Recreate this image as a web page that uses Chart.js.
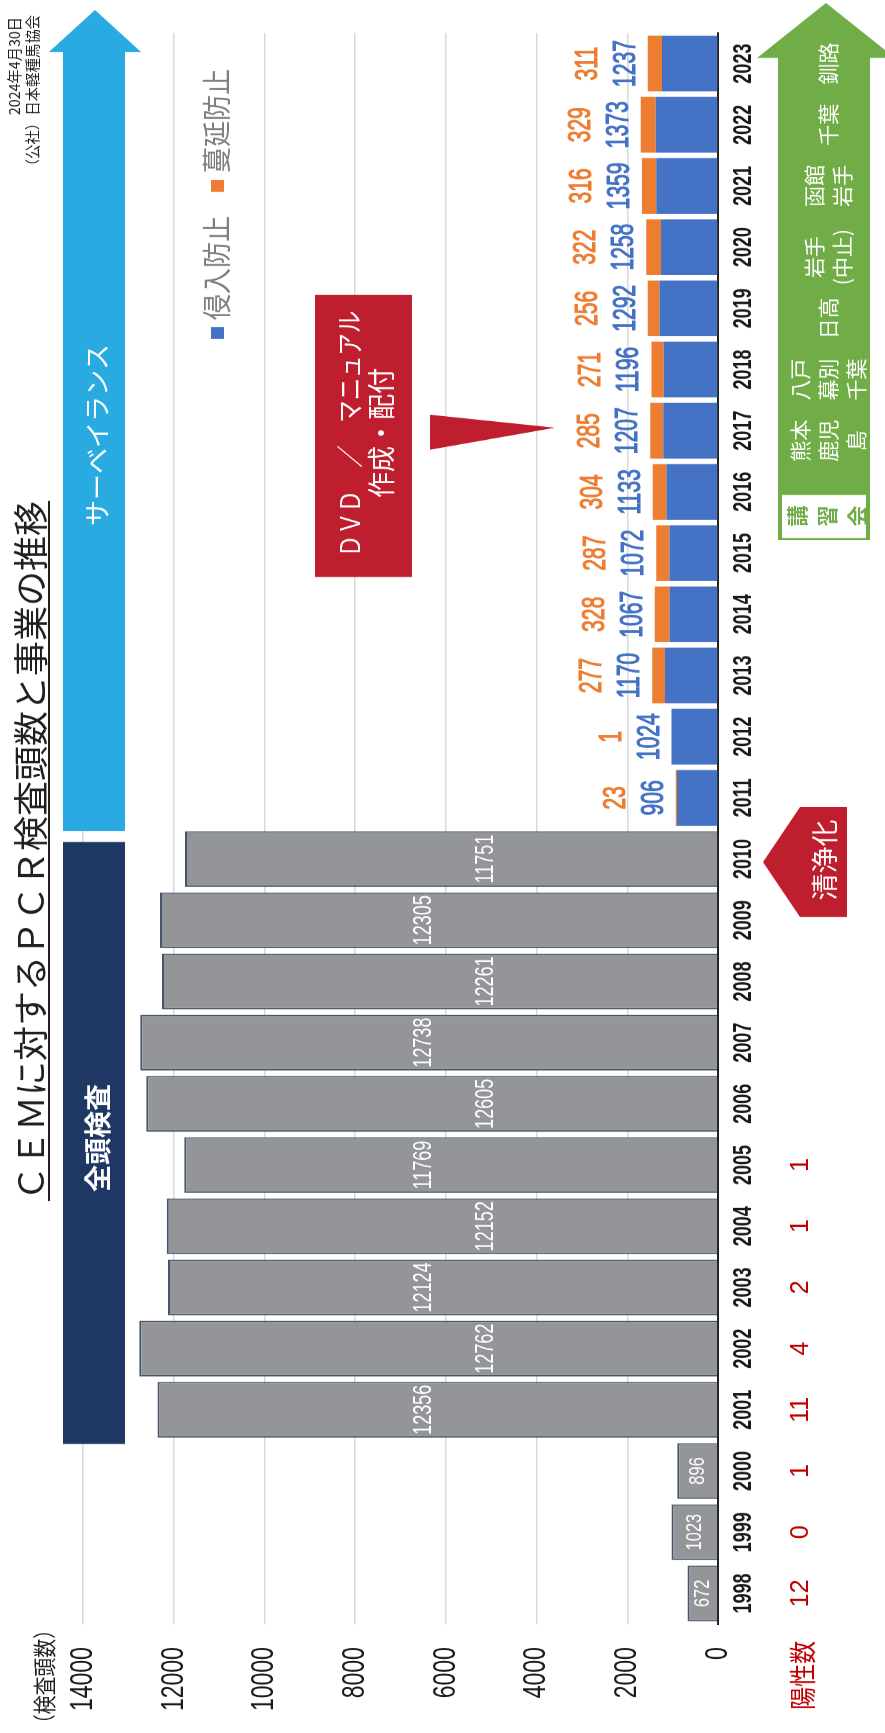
<!DOCTYPE html>
<html lang="ja">
<head>
<meta charset="utf-8">
<script src="https://cdn.jsdelivr.net/npm/chart.js@4.4.1/dist/chart.umd.min.js"></script>
<style>
  html, body { margin: 0; padding: 0; background: #fff; }
  body { width: 885px; height: 1733px; overflow: hidden; position: relative; }
  /* el grafico se dibuja apaisado y se gira */
  #wrap {
    position: absolute; left: 0; top: 0;
    width: 2407px; height: 885px;
    transform-origin: 0 0;
    transform: translate(0, 1733px) rotate(-90deg) scaleX(0.72);
  }
</style>
</head>
<body>
<div id="wrap"><canvas id="myChart" width="2407" height="885"></canvas></div>
<script>
let myChart;

const S = 1733 / 2407;   // compresion horizontal del lienzo apaisado
const ALTO = 1733;       // alto de la pagina = ancho apaisado

const years = ['1998', '1999', '2000', '2001', '2002', '2003', '2004', '2005', '2006',
  '2007', '2008', '2009', '2010', '2011', '2012', '2013', '2014', '2015', '2016',
  '2017', '2018', '2019', '2020', '2021', '2022', '2023'];

// 全頭検査 1998-2010
const zentouKensa = [672, 1023, 896, 12356, 12762, 12124, 12152, 11769, 12605, 12738, 12261, 12305, 11751];
// 侵入防止 / 蔓延防止 2011-2023
const shinnyuBoushi = [906, 1024, 1170, 1067, 1072, 1133, 1207, 1196, 1292, 1258, 1359, 1373, 1237];
const manenBoushi = [23, 1, 277, 328, 287, 304, 285, 271, 256, 322, 316, 329, 311];
// 陽性数 1998-2005
const youseiSuu = [12, 0, 1, 11, 4, 2, 1, 1];

const ejeMax = 14000;
const ejePaso = 2000;

// 講習会
const koushuu = {
  '2017': ['熊本', '鹿児', '島'],
  '2018': ['八戸', '幕別', '千葉'],
  '2019': ['日高'],
  '2020': ['岩手', '(中止)'],
  '2021': ['函館', '岩手'],
  '2022': ['千葉'],
  '2023': ['釧路']
};

const inicio = years.indexOf('2011');
const datosGris = years.map((y, i) => i < zentouKensa.length ? zentouKensa[i] : null);
const datosAzul = years.map((y, i) => i >= inicio ? shinnyuBoushi[i - inicio] : null);
const datosNaranja = years.map((y, i) => i >= inicio ? manenBoushi[i - inicio] : null);

const JP = '"Noto Sans CJK JP", sans-serif';
const NUM = '"Liberation Sans", Arial, sans-serif';

const dibujos = {
  id: 'dibujos',
  afterDraw(chart) {
    const c = chart.ctx;
    const xs = chart.scales.x;
    const ys = chart.scales.y;
    const P = (px, py) => [ALTO - py, px];
    const filaY = i => ALTO - xs.getPixelForValue(i) * S;
    const valX = v => ys.getPixelForValue(v);

    c.save();
    c.scale(1 / S, 1);

    function poly(pts, color) {
      c.beginPath();
      pts.forEach((p, k) => {
        const [a, b] = P(p[0], p[1]);
        if (k) c.lineTo(a, b); else c.moveTo(a, b);
      });
      c.closePath();
      c.fillStyle = color;
      c.fill();
    }
    function rect(x1, y1, x2, y2, color) {
      poly([[x1, y1], [x2, y1], [x2, y2], [x1, y2]], color);
    }
    function texto(str, px, py, font, color, r, align, base, grosor) {
      const [lx, ly] = P(px, py);
      c.save();
      c.translate(lx, ly);
      c.scale(r, 1);
      c.font = font;
      c.fillStyle = color;
      c.textAlign = align || 'center';
      c.textBaseline = base || 'middle';
      c.fillText(str, 0, 0);
      if (grosor) {
        c.strokeStyle = color;
        c.lineWidth = grosor;
        c.strokeText(str, 0, 0);
      }
      c.restore();
    }

    // titulo
    const titulo = 'ＣＥＭに対するＰＣＲ検査頭数と事業の推移';
    c.font = '35px ' + JP;
    const wt = c.measureText(titulo).width;
    texto(titulo, 31, 851, '35px ' + JP, '#231f20', 1, 'center');
    c.fillStyle = '#231f20';
    c.fillRect(ALTO - (851 + wt / 2), 48, wt, 2);

    // fecha
    texto('2024年4月30日', 14, 17, '15px ' + JP, '#231f20', 0.95, 'right');
    texto('（公社）日本軽種馬協会', 32, 15, '15px ' + JP, '#231f20', 0.96, 'right');

    // flecha サーベイランス
    poly([[95, 10], [141, 52], [125, 52], [125, 831], [63, 831], [63, 52], [49, 52]], '#29abe2');
    texto('サーベイランス', 97, 435, '26px ' + JP, '#ffffff', 1, 'center');

    // 全頭検査
    rect(63, 842, 125, 1444, '#1f3763');
    texto('全頭検査', 98, 1138, 'bold 27px ' + JP, '#ffffff', 1, 'center');

    // leyenda
    rect(211, 180, 224, 192, '#ed7d31');
    texto('蔓延防止', 217, 121, '29px ' + JP, '#7f7f7f', 0.9, 'center');
    rect(211, 327, 224, 339, '#4472c4');
    texto('侵入防止', 217, 268, '29px ' + JP, '#7f7f7f', 0.9, 'center');

    // etiquetas de las barras grises
    zentouKensa.forEach((v, i) => {
      if (v < 2000) {
        texto(String(v), valX(v / 2), filaY(i), '22px ' + NUM, '#ffffff', 0.75, 'center');
      } else {
        const pos = i % 2 ? 6480 : 5110;
        texto(String(v), valX(pos), filaY(i), '25px ' + NUM, '#ffffff', 0.72, 'center');
      }
    });

    // etiquetas azul / naranja
    shinnyuBoushi.forEach((v, k) => {
      const i = inicio + k;
      const fin = valX(v + manenBoushi[k]);
      texto(String(v), fin - 13, filaY(i), '31px ' + NUM, '#4472c4', 0.68, 'center', 'alphabetic', 1.1);
      texto(String(manenBoushi[k]), fin - 51, filaY(i), '31px ' + NUM, '#ed7d31', 0.68, 'center', 'alphabetic', 1.1);
    });

    // DVD / マニュアル
    rect(315, 295, 412, 577, '#be1e2d');
    const y17 = filaY(years.indexOf('2017'));
    poly([[430, y17 - 16], [555, y17 - 3], [430, y17 + 19]], '#be1e2d');
    texto('ＤＶＤ　／　マニュアル', 350, 434, '27px ' + JP, '#ffffff', 0.83, 'center');
    texto('作成・配付', 381, 433, '28px ' + JP, '#ffffff', 0.93, 'center');

    // 清浄化
    const y10 = filaY(years.indexOf('2010'));
    poly([[847, y10 - 52], [800, y10 - 52], [763, y10 + 3], [800, y10 + 58], [847, y10 + 58]], '#be1e2d');
    texto('清浄化', 825, y10 + 1, '27px ' + JP, '#ffffff', 1, 'center');

    // flecha verde 講習会
    poly([[826, 3], [895, 58], [870, 58], [870, 540], [778, 540], [778, 58], [757, 58]], '#70ad47');
    rect(780, 493, 868, 540, '#70ad47');
    rect(782, 495, 866, 538, '#ffffff');
    ['講', '習', '会'].forEach((t, k) => {
      texto(t, 797 + k * 30, 516, 'bold 21px ' + JP, '#70ad47', 1, 'center');
    });
    Object.keys(koushuu).forEach(y => {
      const lineas = koushuu[y];
      const i = years.indexOf(y);
      const dy = Number(y) <= 2020 ? 10 : 0;
      const x0 = 828 - (lineas.length - 1) * 14;
      lineas.forEach((t, k) => {
        texto(t, x0 + k * 28, filaY(i) + dy, '21px ' + JP, '#ffffff', 1, 'center');
      });
    });

    // 陽性数
    youseiSuu.forEach((v, i) => {
      texto(String(v), 801, filaY(i), '25px ' + NUM, '#c00000', 1, 'center');
    });
    texto('陽性数', 803, 1641, '27px ' + JP, '#c00000', 0.85, 'right');

    // titulo del eje
    texto('（検査頭数）', 44, 1620, '23px ' + JP, '#231f20', 0.82, 'right');

    c.restore();
  }
};

const ctx = document.getElementById('myChart').getContext('2d');
myChart = new Chart(ctx, {
  type: 'bar',
  data: {
    labels: years,
    datasets: [
      {
        label: '全頭検査',
        data: datosGris,
        backgroundColor: '#939598',
        borderColor: '#44546a',
        borderWidth: 2
      },
      {
        label: '侵入防止',
        data: datosAzul,
        backgroundColor: '#4472c4',
        borderWidth: 0
      },
      {
        label: '蔓延防止',
        data: datosNaranja,
        backgroundColor: '#ed7d31',
        borderWidth: 0
      }
    ]
  },
  options: {
    responsive: false,
    animation: false,
    devicePixelRatio: 1,
    categoryPercentage: 0.91,
    barPercentage: 1,
    layout: { padding: { left: 0, right: 2407 - 1700 / S, top: 83, bottom: 0 } },
    plugins: { legend: { display: false }, tooltip: { enabled: false } },
    scales: {
      x: {
        stacked: true,
        grid: { display: false, drawTicks: false },
        border: { display: true, color: '#222222', width: 2 },
        ticks: {
          font: { family: NUM, size: 25, weight: 'bold' },
          color: '#1a1a1a',
          padding: 11,
          maxRotation: 0,
          autoSkip: false
        },
        afterFit(s) { s.height = 885 - 718; }
      },
      y: {
        stacked: true,
        min: 0,
        max: ejeMax,
        grid: { color: '#d9d9d9', lineWidth: 1.5, drawTicks: false },
        border: { display: false },
        ticks: {
          stepSize: ejePaso,
          font: { family: NUM, size: 32 },
          color: '#1a1a1a',
          padding: 32,
          callback: v => String(v)
        },
        afterFit(s) { s.width = 109 / S; }
      }
    }
  },
  plugins: [dibujos]
});
</script>
</body>
</html>
